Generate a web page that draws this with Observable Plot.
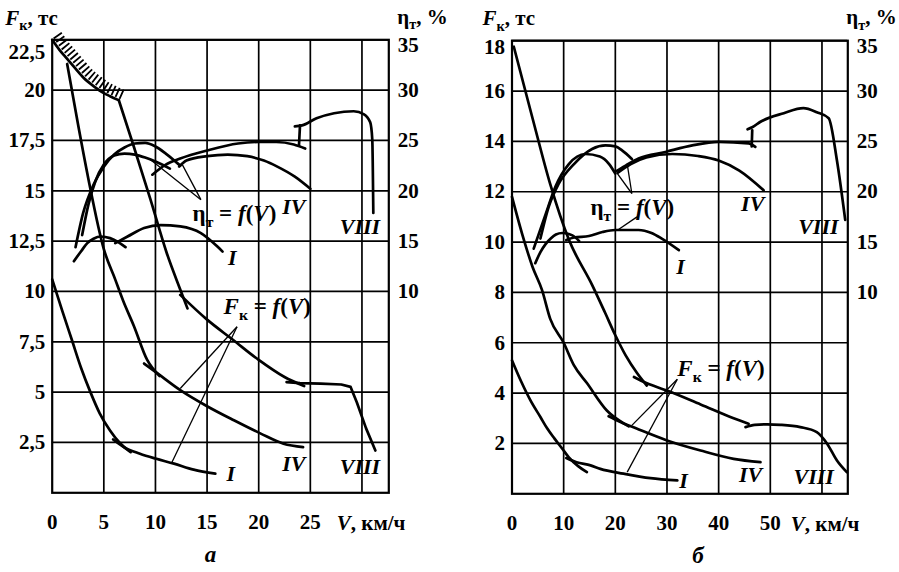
<!DOCTYPE html>
<html><head><meta charset="utf-8">
<script src="https://cdn.jsdelivr.net/npm/d3@7"></script>
<script src="https://cdn.jsdelivr.net/npm/@observablehq/plot@0.6"></script>
<style>
html,body{margin:0;padding:0;background:#fff;}
#wrap{display:flex;width:899px;height:572px;overflow:hidden;}
</style></head><body><div id="wrap"></div>
<script>
// ================= Panel "а" =================
const a_Vticks = [0, 5, 10, 15, 20, 25];
const a_Vgrid = [5, 10, 15, 20, 25, 30];
const a_Fticks = [2.5, 5, 7.5, 10, 12.5, 15, 17.5, 20, 22.5];
const a_etaTicks = [10, 15, 20, 25, 30, 35];
// adhesion limit (hatched)
const a_limit = [[0,22.5],[0.7,22.0],[1.45,21.55],[2.2,21.1],[3.06,20.6],[4,20.2],[5,19.85],[5.6,19.7],[6.45,19.5]];
// tractive force F, тс
const a_F_I_1 = [[0,10.6],[1,9.0],[1.9,7.6],[2.8,6.2],[3.7,5.0],[4.6,3.95],[5.6,3.1],[6.6,2.45],[7.6,2.02]];
const a_F_I_2 = [[5.9,2.65],[7,2.25],[8.5,1.94],[10,1.7],[11.8,1.45],[13.7,1.15],[15.8,0.95]];
const a_F_IV_1 = [[1.45,21.3],[2.5,18.3],[3.5,15.6],[5,12.1],[6.1,10.6],[6.9,9.5],[7.9,8.3],[9.2,6.6],[10.4,5.8]];
const a_F_IV_2 = [[8.9,6.42],[10.2,5.93],[12.4,5.1],[15,4.3],[17.6,3.6],[20.2,2.94],[22.4,2.44],[24.3,2.27]];
const a_F_VIII_1 = [[6.45,19.5],[7.9,17.2],[9.5,14.6],[11.1,11.9],[12.4,10.1],[13.1,9.16]];
const a_F_VIII_2 = [[12.4,9.83],[15,8.6],[17.5,7.6],[20,6.6],[22.5,5.75],[24.4,5.3]];
const a_F_VIII_3 = [[22.7,5.5],[24,5.45],[26,5.42],[28,5.38],[28.9,5.26],[29.5,4.5],[30.4,3.2],[31.3,2.1]];
// efficiency η, %
const a_eta_I_1 = [[2.1,13],[2.8,14],[3.4,14.8],[4,15.24],[4.7,15.46],[5.6,15.3],[6.4,14.9],[7.1,14.4]];
const a_eta_I_2 = [[6.1,14.8],[7.3,15.46],[8.9,16.3],[10.5,16.6],[12.4,16.46],[14.4,15.8],[16,14.46],[16.5,13.96]];
const a_eta_A = [[2.26,14.4],[3,17.8],[4,20.6],[5,22.4],[6,23.6],[7,24.3],[8,24.7],[9,24.76],[10,24.4],[11,23.7],[12.4,22.5]];
const a_eta_B = [[2.9,15.6],[3.5,18.6],[4.2,21],[5,22.6],[6,23.5],[7,23.7],[8,23.6],[9,23.3],[10,22.9],[11.4,22.2]];
const a_eta_IV_2 = [[12.3,22.4],[13,23],[15,23.44],[17,23.6],[18.9,23.44],[20.5,23],[21.8,22.4],[23.5,21.4],[25,20.2]];
const a_eta_VIII_1 = [[9.7,21.6],[11,22.6],[12.4,23.2],[15,24],[18,24.7],[20,24.85],[21.7,24.85],[23.4,24.6],[24.5,24.2]];
const a_eta_VIII_br = [[23.9,24.5],[24.0,26.5]];
const a_eta_VIII_2 = [[23.5,26.4],[24.2,26.5],[25.6,27.2],[27.3,27.7],[29.2,27.9],[30.2,27.6],[30.8,26.8],[31.0,25.1],[31.1,17.8]];
// leader lines (from label, to curve) in V / F units
const a_leaders = [
  [[14.4,14.56],[9.5,16.55]], [[14.4,14.56],[12.6,16.3]],
  [[17.9,8.25],[12.4,5.18]], [[17.9,8.25],[11.6,1.52]]
];
// formula labels (start-anchored) and gear labels (centred)
const a_formText = ["η_т = *f*(*V*)", "*F*_к = *f*(*V*)"];
const a_formV = [13.6, 16.6];
const a_formF = [13.85, 9.25];
const a_gearText = ["IV", "VIII", "I", "I", "IV", "VIII"];
const a_gearV = [23.4, 29.8, 17.45, 17.3, 23.4, 29.8];
const a_gearF = [14.2, 13.2, 11.64, 0.96, 1.45, 1.26];

// ================= Panel "б" =================
const b_Vticks = [0, 10, 20, 30, 40, 50];
const b_Vgrid = [10, 20, 30, 40, 50, 60];
const b_Fticks = [2, 4, 6, 8, 10, 12, 14, 16, 18];
const b_etaTicks = [10, 15, 20, 25, 30, 35];
const b_F_I_1 = [[0,5.3],[1.8,4.45],[3.6,3.7],[5.5,3.05],[6.8,2.6],[8.2,2.2],[9.7,1.8],[11,1.45],[12.8,1.1],[14.5,0.86]];
const b_F_I_2 = [[10.5,1.42],[12.5,1.25],[15.2,1.13],[17.1,0.99],[21.6,0.8],[26.8,0.62],[32,0.53]];
const b_F_IV_1 = [[0,11.8],[2,10.3],[4,9.0],[5.8,8.1],[7.4,6.95],[10,6.0],[12,5.1],[14.5,4.4],[18.4,3.3],[21.6,2.8],[22.6,2.68]];
const b_F_IV_2 = [[18.7,3.08],[21,2.85],[24,2.6],[30,2.12],[36.5,1.72],[42.9,1.39],[48.1,1.26]];
const b_F_VIII_1 = [[0.35,17.76],[4,14.9],[7.4,12.3],[11,10.1],[15.5,8.3],[18,7.2],[20,6.3],[22,5.5],[24.2,4.8],[26.1,4.3]];
const b_F_VIII_2 = [[23.6,4.64],[26,4.4],[30,4.1],[36.5,3.55],[42.9,3.0],[45.8,2.78]];
const b_F_VIII_3 = [[45.2,2.65],[47,2.74],[49.4,2.76],[52,2.74],[55.8,2.65],[59,2.45],[61,1.99],[62.9,1.32],[64.8,0.86]];
const b_eta_I_1 = [[4.5,12.9],[5.5,14.0],[6.5,14.8],[7.5,15.35],[8.5,15.75],[9.7,15.9],[11,15.8],[12.3,15.45],[13,15.1]];
const b_eta_I_2 = [[10.5,15.2],[12,15.45],[14.9,15.6],[17.5,16.0],[20,16.2],[24.5,16.2],[27,15.9],[29,15.35],[32.3,14.2]];
const b_eta_A = [[4.2,14.35],[6.5,17.75],[8.4,20.5],[11,22.75],[14.2,23.75],[17,23.5],[18.8,22.75],[20,21.8]];
const b_eta_B = [[5.5,15.35],[7.1,18.5],[9,20.75],[12,22.75],[15.5,24.25],[18.1,24.6],[20,24.5],[21.3,24.1],[23.2,23.25]];
const b_eta_IV_2 = [[20.5,21.9],[23,22.75],[26,23.4],[31,23.75],[36,23.55],[40,23.1],[44,22.1],[48.7,20.15]];
const b_eta_VIII_1 = [[20,22],[22,22.6],[24.5,23.3],[29.7,23.95],[34.9,24.6],[40,24.95],[45.8,24.8],[47.1,24.45]];
const b_eta_VIII_br = [[46.4,24.5],[46.5,26.1]];
const b_eta_VIII_2 = [[45.6,26.2],[46.5,26.4],[48.1,26.95],[52.6,27.8],[56.4,28.3],[59,27.9],[61.3,27.3],[62.9,23.1],[64.5,17.2]];
const b_leaders = [
  [[23.2,11.93],[20.3,12.75]], [[23.2,11.93],[22.3,13.1]], [[24.2,11.0],[20.4,10.47]],
  [[32,4.55],[23.2,2.72]], [[32,4.55],[22.3,0.86]]
];
const b_formText = ["η_т = *f*(*V*)", "*F*_к = *f*(*V*)"];
const b_formV = [15.2, 32.0];
const b_formF = [11.38, 4.99];
const b_gearText = ["IV", "VIII", "I", "I", "IV", "VIII"];
const b_gearV = [46.6, 59.3, 32.6, 33.2, 46.2, 58.4];
const b_gearF = [11.53, 10.6, 9.0, 0.53, 0.73, 0.65];

const fmtComma = d => String(d).replace(".", ",");
const FONT = "'Liberation Serif', 'Times New Roman', serif";

function buildPanel(p) {
  const L = (data, opt = {}) => Plot.line(data, {x: d => d[0], y: d => d[1], stroke: "black", strokeWidth: 2.7, curve: "monotone-x", strokeLinejoin: "round", strokeLinecap: "round", ...opt});
  const E = (data, opt = {}) => Plot.line(data, {x: d => d[0], y: d => p.toF(d[1]), stroke: "black", strokeWidth: 2.7, curve: "monotone-x", strokeLinejoin: "round", strokeLinecap: "round", ...opt});
  const topF = p.Fticks[p.Fticks.length - 1];
  const topEta = p.etaTicks[p.etaTicks.length - 1];
  const etaFmt = f => String(Math.round(p.toEta(f)));
  const marks = [
    Plot.ruleX(p.Vgrid, {stroke: "black", strokeWidth: 1.7}),
    Plot.ruleY(p.Fticks, {stroke: "black", strokeWidth: 1.7}),
    Plot.frame({stroke: "black", strokeWidth: 2.2}),
    Plot.axisX({ticks: p.Vticks, tickSize: 0, tickPadding: 21, tickFormat: d => String(d)}),
    Plot.axisY({ticks: p.Fticks.slice(0, -1), tickSize: 0, tickPadding: 7, tickFormat: fmtComma}),
    Plot.axisY({ticks: [topF], tickSize: 0, tickPadding: 7, tickFormat: fmtComma, dy: p.topDyL}),
    Plot.axisY({anchor: "right", ticks: p.etaTicks.slice(0, -1).map(p.toF), tickSize: 0, tickPadding: 9, tickFormat: etaFmt}),
    Plot.axisY({anchor: "right", ticks: [p.toF(topEta)], tickSize: 0, tickPadding: 9, tickFormat: etaFmt, dy: p.topDyR}),
  ];
  if (p.limit) {
    marks.push(L(p.limit, {strokeWidth: 10, strokeDasharray: "1.8,2.6", strokeLinecap: "butt", dx: 5, dy: -5}));
    marks.push(L(p.limit));
  }
  p.Fcurves.forEach((c, i) => marks.push(L(c, i === p.Fcurves.length - 1 && p.limit ? {curve: "linear"} : {})));
  p.etaCurves.forEach(c => marks.push(E(c)));
  p.etaBracket.forEach(c => marks.push(E(c, {curve: "linear"})));
  marks.push(Plot.link(p.leaders, {x1: d => d[0][0], y1: d => d[0][1], x2: d => d[1][0], y2: d => d[1][1], stroke: "black", strokeWidth: 1.3}));
  marks.push(Plot.text(d3.range(p.formText.length), {
    x: i => p.formV[i], y: i => p.formF[i], text: i => p.formText[i],
    textAnchor: "start", lineAnchor: "middle", fontSize: 23, fill: "black"
  }));
  marks.push(Plot.text(d3.range(p.gearText.length), {
    x: i => p.gearV[i], y: i => p.gearF[i], text: i => p.gearText[i],
    textAnchor: "middle", lineAnchor: "middle", fontSize: 22, fontStyle: "italic", fill: "black"
  }));
  // axis titles and caption
  marks.push(Plot.text(["*F*_к, тс"], {frameAnchor: "top-left", text: d => d, textAnchor: "start", lineAnchor: "middle", dx: p.titleLdx, dy: -22, fontSize: 21}));
  marks.push(Plot.text(["η_т, %"], {frameAnchor: "top-right", text: d => d, textAnchor: "end", lineAnchor: "middle", dx: p.titleRdx, dy: -23, fontSize: 21}));
  marks.push(Plot.text(["*V*, км/ч"], {frameAnchor: "bottom-right", text: d => d, textAnchor: "start", lineAnchor: "middle", dx: p.vLabDx, dy: 30, fontSize: 21}));
  marks.push(Plot.text([p.caption], {frameAnchor: "bottom", text: d => d, lineAnchor: "middle", dx: p.capDx, dy: 62, fontSize: 23, fontStyle: "italic"}));

  return Plot.plot({
    width: p.width, height: 572,
    marginLeft: p.mL, marginRight: p.mR, marginTop: p.mT, marginBottom: p.mB,
    x: {domain: p.xDomain},
    y: {domain: p.yDomain},
    style: {fontFamily: FONT, fontSize: "21px", fontWeight: "bold", color: "black", background: "white", overflow: "visible"},
    marks
  });
}

function richify(svg) {
  const NS = "http://www.w3.org/2000/svg";
  svg.querySelectorAll("text").forEach(t => {
    const s = t.textContent;
    if (!/[*_]/.test(s)) return;
    const fs = parseFloat(getComputedStyle(t).fontSize) || 21;
    const shift = 0.26 * fs;
    t.textContent = "";
    const re = /\*([^*]+)\*|_(.)|([^*_]+)/g;
    let m, pending = 0;
    while ((m = re.exec(s))) {
      const ts = document.createElementNS(NS, "tspan");
      if (m[2]) {
        ts.textContent = m[2];
        ts.setAttribute("font-size", (0.68 * fs) + "px");
        ts.setAttribute("dy", shift);
        pending = -shift;
      } else {
        ts.textContent = m[1] || m[3];
        if (m[1]) ts.setAttribute("font-style", "italic");
        if (pending) { ts.setAttribute("dy", pending); pending = 0; }
      }
      t.appendChild(ts);
    }
  });
}

const wrap = document.getElementById("wrap");
const panelA = buildPanel({
  width: 450, mL: 51.7, mR: 61.7, mT: 39.3, mB: 79.7,
  xDomain: [0, 32.6], yDomain: [0, 22.5],
  Vticks: a_Vticks, Vgrid: a_Vgrid, Fticks: a_Fticks, etaTicks: a_etaTicks,
  toF: e => (e + 10) / 2, toEta: f => 2 * f - 10,
  limit: a_limit,
  Fcurves: [a_F_I_1, a_F_I_2, a_F_IV_1, a_F_IV_2, a_F_VIII_1, a_F_VIII_2, a_F_VIII_3],
  etaCurves: [a_eta_I_1, a_eta_I_2, a_eta_A, a_eta_B, a_eta_IV_2, a_eta_VIII_1, a_eta_VIII_2],
  etaBracket: [a_eta_VIII_br],
  leaders: a_leaders,
  formText: a_formText, formV: a_formV, formF: a_formF,
  gearText: a_gearText, gearV: a_gearV, gearF: a_gearF,
  titleLdx: -47, titleRdx: 59, vLabDx: -52, capDx: -10, caption: "а",
  topDyL: 12, topDyR: 5
});
const panelB = buildPanel({
  width: 449, mL: 61.5, mR: 51.7, mT: 40.2, mB: 78.7,
  xDomain: [0, 65], yDomain: [0, 18],
  Vticks: b_Vticks, Vgrid: b_Vgrid, Fticks: b_Fticks, etaTicks: b_etaTicks,
  toF: e => (e + 10) / 2.5, toEta: f => 2.5 * f - 10,
  limit: null,
  Fcurves: [b_F_I_1, b_F_I_2, b_F_IV_1, b_F_IV_2, b_F_VIII_1, b_F_VIII_2, b_F_VIII_3],
  etaCurves: [b_eta_I_1, b_eta_I_2, b_eta_A, b_eta_B, b_eta_IV_2, b_eta_VIII_1, b_eta_VIII_2],
  etaBracket: [b_eta_VIII_br],
  leaders: b_leaders,
  formText: b_formText, formV: b_formV, formF: b_formF,
  gearText: b_gearText, gearV: b_gearV, gearF: b_gearF,
  titleLdx: -29.5, titleRdx: 49, vLabDx: -57, capDx: 18, caption: "б",
  topDyL: 7, topDyR: 6
});
wrap.appendChild(panelA);
wrap.appendChild(panelB);
richify(panelA);
richify(panelB);
</script>
</body></html>
